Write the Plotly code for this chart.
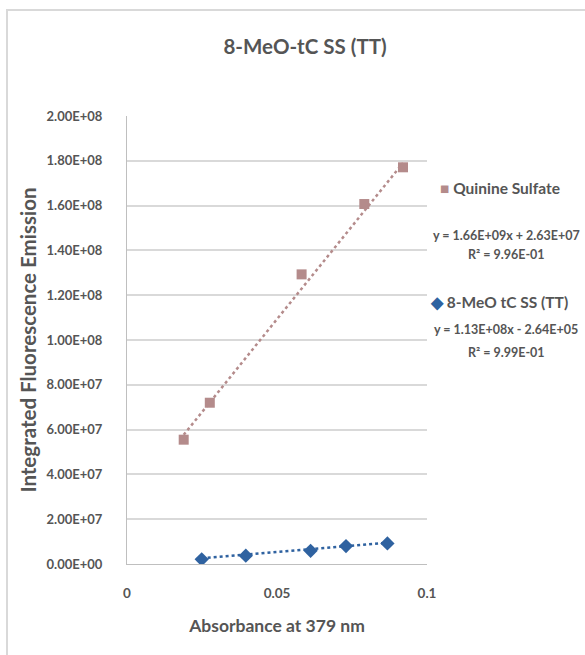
import plotly.graph_objects as go

# Absorbance / integrated emission data
quinine_abs = [0.0189, 0.0276, 0.0582, 0.0791, 0.0920]
quinine_em = [5.55e7, 7.20e7, 1.293e8, 1.607e8, 1.771e8]
meo_abs = [0.0249, 0.0396, 0.0612, 0.0730, 0.0868]
meo_em = [2.1e6, 3.7e6, 5.9e6, 8.0e6, 9.2e6]

# Linear fit coefficients (slope, intercept, R^2)
quinine_fit = (1.66e9, 2.63e7, 9.96e-1)
meo_fit = (1.13e8, -2.64e5, 9.99e-1)

y_tick_vals = [0, 2e7, 4e7, 6e7, 8e7, 1e8, 1.2e8, 1.4e8, 1.6e8, 1.8e8, 2e8]
y_tick_text = ["0.00E+00", "2.00E+07", "4.00E+07", "6.00E+07", "8.00E+07",
               "1.00E+08", "1.20E+08", "1.40E+08", "1.60E+08", "1.80E+08", "2.00E+08"]
x_tick_vals = [0, 0.05, 0.1]
x_tick_text = ["0", "0.05", "0.1"]

Q_COLOR = "#B48B8B"
M_COLOR = "#2F62A0"
TXT = "#555555"
FONT = "Lato"


def fmt_e(v):
    s = f"{abs(v):.2E}"
    mant, exp = s.split("E")
    return f"{mant}E{exp[0]}{int(exp[1:]):02d}"


def fit_equation(fit):
    m, b, _ = fit
    op = "+" if b >= 0 else "-"
    return f"y = {fmt_e(m)}x {op} {fmt_e(b)}"


def r2_text(fit):
    return f"R² = {fmt_e(fit[2])}"


fig = go.Figure()

# Trendlines over each data range
for xs, fit, color in [(quinine_abs, quinine_fit, Q_COLOR), (meo_abs, meo_fit, M_COLOR)]:
    x0, x1 = min(xs), max(xs)
    m, b, _ = fit
    fig.add_trace(go.Scatter(
        x=[x0, x1], y=[m * x0 + b, m * x1 + b], mode="lines",
        line=dict(color=color, width=2.5, dash="dot"),
        showlegend=False, hoverinfo="skip"))

fig.add_trace(go.Scatter(
    x=quinine_abs, y=quinine_em, mode="markers", name="Quinine Sulfate",
    marker=dict(symbol="square", size=10, color=Q_COLOR)))
fig.add_trace(go.Scatter(
    x=meo_abs, y=meo_em, mode="markers", name="8-MeO tC SS (TT)",
    marker=dict(symbol="diamond", size=11, color=M_COLOR)))


# Pixel -> paper coordinates for the side panel (plot area 127..427 x 116..564)
def px(x):
    return (x - 127) / 300


def py(y):
    return (564 - y) / 448


def side_text(x, y, text, size):
    return dict(x=px(x), y=py(y), xref="paper", yref="paper",
                xanchor="center", yanchor="middle", showarrow=False, text=text,
                font=dict(family=FONT, size=size, color=TXT, weight="bold"))


annotations = [
    side_text(500, 188, f'<span style="color:{Q_COLOR}">■</span> Quinine Sulfate', 15.5),
    side_text(506, 235, fit_equation(quinine_fit), 12.5),
    side_text(506, 255, r2_text(quinine_fit), 12.5),
    side_text(499, 302, f'<span style="color:{M_COLOR}">◆</span> 8-MeO tC SS (TT)', 15.5),
    side_text(506, 329, fit_equation(meo_fit), 12.5),
    side_text(506, 352, r2_text(meo_fit), 12.5),
]

fig.update_layout(
    width=585, height=655,
    margin=dict(l=127, r=158, t=116, b=91),
    paper_bgcolor="white", plot_bgcolor="white",
    showlegend=False,
    title=dict(text="8-MeO-tC SS (TT)", x=305 / 585, xanchor="center",
               y=1 - 47 / 655, yanchor="middle",
               font=dict(family=FONT, size=20.5, color=TXT, weight="bold")),
    annotations=annotations,
    shapes=[dict(type="rect", xref="paper", yref="paper",
                 x0=px(7), x1=px(600), y0=py(680), y1=py(10),
                 line=dict(color="#D9D9D9", width=2), layer="below")],
)

fig.update_xaxes(
    range=[0, 0.1], tickvals=x_tick_vals, ticktext=x_tick_text,
    showgrid=False, zeroline=False, showline=True, linecolor="#BFBFBF", linewidth=1,
    ticks="", ticklabelstandoff=17,
    tickfont=dict(family=FONT, size=13.5, color=TXT, weight="bold"),
    title=dict(text="Absorbance at 379 nm", standoff=19,
               font=dict(family=FONT, size=17.5, color=TXT, weight="bold")))
fig.update_yaxes(
    range=[0, 2e8], tickvals=y_tick_vals, ticktext=y_tick_text,
    showgrid=True, gridcolor="#D9D9D9", gridwidth=1.5, zeroline=False,
    showline=True, linecolor="#BFBFBF", linewidth=1,
    ticks="", ticklabelstandoff=21,
    tickfont=dict(family=FONT, size=13, color=TXT, weight="bold"),
    title=dict(text="Integrated Fluorescence Emission", standoff=4,
               font=dict(family=FONT, size=20.5, color=TXT, weight="bold")))

fig.write_html("out.html")
